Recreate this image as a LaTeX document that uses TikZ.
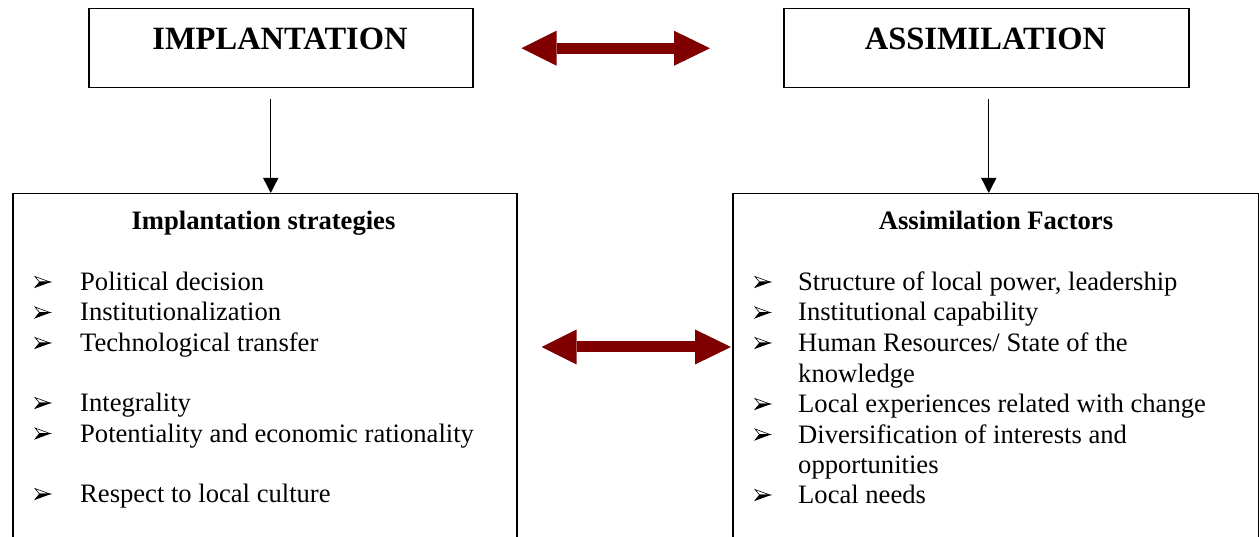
\documentclass[tikz,border=0pt]{standalone}
\usepackage{fontspec}
\setmainfont{Liberation Serif}
\usetikzlibrary{arrows.meta}
\definecolor{darkred}{RGB}{128,0,0}
\begin{document}
\begin{tikzpicture}[x=1pt,y=-1pt,
  box/.style={draw=black, line width=1.5pt, inner sep=0pt},
  title/.style={font=\fontsize{32.5}{38}\selectfont\bfseries, anchor=base, inner sep=0pt},
  head/.style={font=\fontsize{26.6}{31}\selectfont\bfseries, anchor=base, inner sep=0pt},
  item/.style={font=\fontsize{26.6}{31}\selectfont, anchor=base west, inner sep=0pt},
  flow/.style={-{Triangle[width=15pt,length=15pt]}, line width=1.4pt},
  bigarrow/.style={{Triangle[width=35pt,length=35pt,line width=0pt]}-{Triangle[width=35pt,length=36pt,line width=0pt]}, line width=11pt, draw=darkred},
  bullet/.pic={
    \draw[line width=0.6pt, line join=miter] (0,-5.5) -- (15,0) -- (4.5,0) -- cycle;
    \filldraw[line width=0.6pt, line join=miter] (0,5.5) -- (15,0) -- (4.5,0) -- cycle;
  }
]
\clip (0,0) rectangle (1259,537);
% top boxes
\node[box, minimum width=384pt, minimum height=79pt, anchor=north west] (impl) at (88,8) {};
\node[title] (implT) at (280,50) {IMPLANTATION};
\node[box, minimum width=405pt, minimum height=79pt, anchor=north west] (assim) at (783,8) {};
\node[title] (assimT) at (985.5,50) {ASSIMILATION};
% big boxes
\node[box, minimum width=504pt, minimum height=420pt, anchor=north west] (strat) at (12,193) {};
\node[box, minimum width=526pt, minimum height=420pt, anchor=north west] (fact) at (732,193) {};
\node[head] (stratT) at (263.5,229.5) {Implantation strategies};
\node[head] (factT) at (996,229.5) {Assimilation Factors};
% down arrows
\draw[flow] ([shift={(-10,11)}]impl.south) -- ([shift={(-10,0)}]impl.south |- strat.north);
\draw[flow] ([shift={(2.5,11)}]assim.south) -- ([shift={(2.5,0)}]assim.south |- fact.north);
% red double arrows
\draw[bigarrow, shorten <=48pt, shorten >=73pt] (impl.east) -- (assim.west);
\coordinate (mid) at (0,347);
\draw[bigarrow, shorten <=24pt, shorten >=1pt] (strat.east |- mid) -- (fact.west |- mid);
% left items
\pic at (35,282) {bullet};   \node[item] (l1) at (80,290.5) {Political decision};
\pic at (35,312.5) {bullet}; \node[item] (l2) at (80,321) {Institutionalization};
\pic at (35,343) {bullet};   \node[item] (l3) at (80,351.5) {Technological transfer};
\pic at (35,403) {bullet};   \node[item] (l4) at (80,411.5) {Integrality};
\pic at (35,433.5) {bullet}; \node[item] (l5) at (80,442) {Potentiality and economic rationality};
\pic at (35,494) {bullet};   \node[item] (l6) at (80,502.5) {Respect to local culture};
% right items
\pic at (755,282) {bullet};   \node[item] (r1) at (798,290.5) {Structure of local power, leadership};
\pic at (755,312.5) {bullet}; \node[item] (r2) at (798,321) {Institutional capability};
\pic at (755,343) {bullet};   \node[item] (r3) at (798,351.5) {Human Resources/ State of the};
\node[item] (r3b) at (798,382) {knowledge};
\pic at (755,404) {bullet};   \node[item] (r4) at (798,412.5) {Local experiences related with change};
\pic at (755,434.5) {bullet}; \node[item] (r5) at (798,443) {Diversification of interests and};
\node[item] (r5b) at (798,473.5) {opportunities};
\pic at (755,495) {bullet};   \node[item] (r6) at (798,503.5) {Local needs};
\end{tikzpicture}
\end{document}
